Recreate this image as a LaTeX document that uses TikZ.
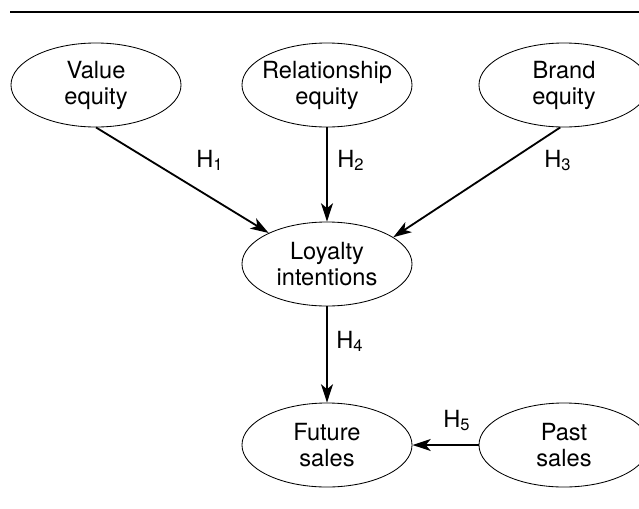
\documentclass[tikz,border=0pt]{standalone}
\usepackage{fontspec}
\setmainfont{TeX Gyre Heros}
\usetikzlibrary{shapes.geometric,arrows.meta}

\tikzset{
  construct/.style={ellipse, draw, line width=0.6pt, align=center,
    inner xsep=-4pt, inner ysep=2pt, minimum width=4.25cm, minimum height=2.1cm,
    font=\fontsize{16.8}{18.5}\selectfont},
  hyp/.style={inner sep=0pt, anchor=base west, font=\fontsize{16.8}{18.5}\selectfont},
  link/.style={-{Stealth[length=13pt,width=8.5pt,inset=3.5pt]}, line width=1.3pt},
}

\begin{document}
\begin{tikzpicture}[x=0.025cm, y=-0.025cm]
\useasboundingbox (0,0) rectangle (639,508);

% Top rule
\draw[line width=1.6pt] (10,12) -- (639,12);

% Constructs
\foreach \name/\x/\y/\txt in {value/96/85/Value\\equity,
    relation/327/85/Relationship\\equity,
    brand/564/85/Brand\\equity,
    loyalty/327/264/Loyalty\\intentions,
    future/327/445/Future\\sales,
    past/564/445/Past\\sales}{
    \node[construct] (\name) at (\x,\y) {\txt};
}

% Hypotheses
\draw[link] (value.south) -- (loyalty.152);
\draw[link] (relation.south) -- (loyalty.north);
\draw[link] (brand.265) -- (loyalty.22);
\draw[link] (loyalty.south) -- (future.north);
\draw[link] (past.west) -- (future.east);

\node[hyp] (h1) at (196,167) {H\textsubscript{1}};
\node[hyp] (h2) at (337,167) {H\textsubscript{2}};
\node[hyp] (h3) at (544,167) {H\textsubscript{3}};
\node[hyp] (h4) at (336,348) {H\textsubscript{4}};
\node[hyp] (h5) at (443,427) {H\textsubscript{5}};

\end{tikzpicture}
\end{document}
